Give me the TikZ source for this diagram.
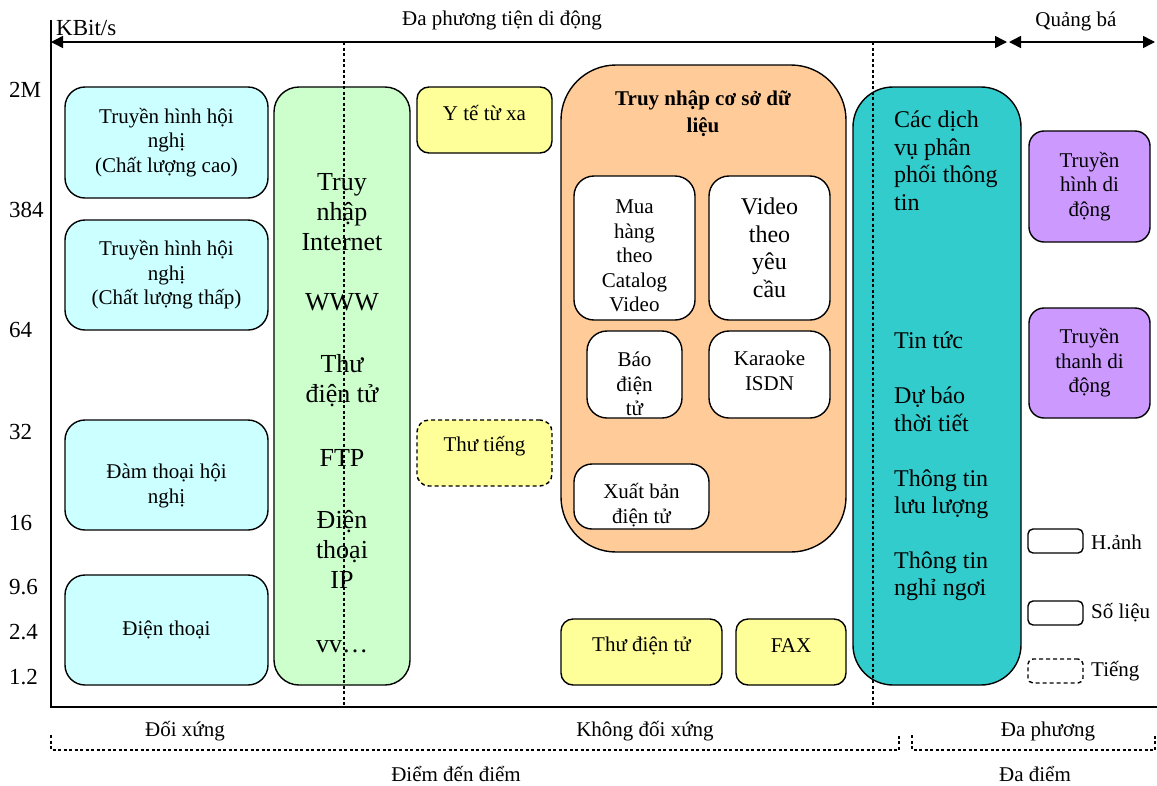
\documentclass[tikz,border=0pt]{standalone}
\usepackage{fontspec}
\setmainfont{Liberation Serif}
\usetikzlibrary{arrows.meta}
\definecolor{cyc}{HTML}{CCFFFF}
\definecolor{grc}{HTML}{CCFFCC}
\definecolor{yec}{HTML}{FFFF99}
\definecolor{orc}{HTML}{FFCC99}
\definecolor{tec}{HTML}{33CCCC}
\definecolor{puc}{HTML}{CC99FF}
\newcommand\fA{\fontsize{21}{24.5}\selectfont}
\newcommand\fB{\fontsize{26}{30}\selectfont}
\newcommand\fC{\fontsize{24}{27.5}\selectfont}
\newcommand\fD{\fontsize{23}{26}\selectfont}
\tikzset{
  rb/.style={draw=black, line width=1.4pt, align=center, inner sep=0pt, font=\fA},
  txt/.style={align=center, inner sep=0pt, font=\fA},
  dotl/.style={line width=1.5pt, dash pattern=on 3pt off 2.5pt},
  dbox/.style={dash pattern=on 4pt off 3pt},
  axl/.style={line width=1.5pt},
  arr/.style={line width=1.5pt, {Triangle[length=12pt,width=12pt]}-{Triangle[length=12pt,width=12pt]}},
  ylab/.style={anchor=west, inner sep=0pt, font=\fD}
}
\begin{document}
\begin{tikzpicture}[x=1pt,y=-1pt]
\useasboundingbox[fill=white] (0,0) rectangle (1157,785);

% axes
\coordinate (ax0) at (51,20);
\coordinate (ax1) at (51,707);
\coordinate (ax2) at (1157,707);
\draw[axl] (ax0) -- (ax1) -- (ax2);
\node[ylab] (kbit) at (56,28) {KBit/s};

% top arrows
\coordinate (a0) at (51,42);
\coordinate (a1) at (1007,42);
\coordinate (a1r) at (1009,42);
\coordinate (a2) at (1155,42);
\draw[arr] (a0) -- (a1);
\draw[arr] (a1r) -- (a2);
\node[txt] (mob) at (502,20) {Đa phương tiện di động};
\node[txt] (qb) at (1076,21) {Quảng bá};

% y labels
\node[ylab] (y1) at (9,90) {2M};
\node[ylab] (y2) at (9,210) {384};
\node[ylab] (y3) at (9,330) {64};
\node[ylab] (y4) at (9,432) {32};
\node[ylab] (y5) at (9,523) {16};
\node[ylab] (y6) at (9,587) {9.6};
\node[ylab] (y7) at (9,632) {2.4};
\node[ylab] (y8) at (9,677) {1.2};

% cyan boxes
\node[rb, rounded corners=20, fill=cyc, minimum width=203, minimum height=111] (tvh) at (166.5,142.5) {Truyền hình hội\\nghị\\(Chất lượng cao)};
\node[rb, rounded corners=20, fill=cyc, minimum width=203, minimum height=110] (tvl) at (166.5,275) {Truyền hình hội\\nghị\\(Chất lượng thấp)};
\node[rb, rounded corners=20, fill=cyc, minimum width=203, minimum height=110] (dtn) at (166.5,475) {};
\node[txt] (dtnt) at (166.5,486) {Đàm thoại hội\\nghị};
\node[rb, rounded corners=20, fill=cyc, minimum width=203, minimum height=110] (dt) at (166.5,630) {Điện thoại};

% green box
\node[rb, rounded corners=25, fill=grc, minimum width=136, minimum height=598] (gr) at (342,386) {};
\node[txt, font=\fB] (g1) at (342,212) {Truy\\nhập\\Internet};
\node[txt, font=\fB] (g2) at (342,302) {WWW};
\node[txt, font=\fB] (g3) at (342,381) {Thư\\điện tử};
\node[txt, font=\fB] (g4) at (342,458) {FTP};
\node[txt, font=\fB] (g5) at (342,549) {Điện\\thoại\\IP};
\node[txt, font=\fB] (g6) at (342,647) {vv…};

% yellow boxes
\node[rb, rounded corners=12, fill=yec, minimum width=135, minimum height=66] (yt) at (484.5,120) {};
\node[txt] (ytt) at (484.5,113) {Y tế từ xa};
\node[rb, dbox, rounded corners=12, fill=yec, minimum width=135, minimum height=66] (tt) at (484.5,453) {};
\node[txt] (ttt) at (484.5,446) {Thư tiếng};
\node[rb, rounded corners=12, fill=yec, minimum width=161, minimum height=66] (tdt) at (641.5,652) {};
\node[txt] (tdtt) at (641.5,646) {Thư điện tử};
\node[rb, rounded corners=12, fill=yec, minimum width=110, minimum height=66] (fax) at (791,652) {};
\node[txt] (faxt) at (791,646) {FAX};

% orange box
\node[rb, rounded corners=55, fill=orc, minimum width=285, minimum height=487] (db) at (703.5,308.5) {};
\node[txt, font=\fontsize{21}{27}\selectfont\bfseries] (dbt) at (703,114) {Truy nhập cơ sở dữ\\liệu};
\node[rb, rounded corners=20, fill=white, minimum width=121, minimum height=144] (mua) at (634.5,248) {};
\node[txt] (muat) at (634.5,256) {Mua\\hàng\\theo\\Catalog\\Video};
\node[rb, rounded corners=20, fill=white, minimum width=121, minimum height=144, font=\fC] (vid) at (769.5,248) {Video\\theo\\yêu\\cầu};
\node[rb, rounded corners=20, fill=white, minimum width=95, minimum height=87] (bao) at (634.5,374.5) {};
\node[txt] (baot) at (634.5,384) {Báo\\điện\\tử};
\node[rb, rounded corners=20, fill=white, minimum width=121, minimum height=87] (kar) at (769.5,374.5) {};
\node[txt] (kart) at (769.5,371) {Karaoke\\ISDN};
\node[rb, rounded corners=18, fill=white, minimum width=135, minimum height=65] (xb) at (641.5,496.5) {};
\node[txt] (xbt) at (641.5,505) {Xuất bản\\điện tử};

% teal box
\node[rb, rounded corners=40, fill=tec, minimum width=168, minimum height=598] (te) at (937,386) {};
\node[txt, font=\fC, anchor=west, align=left] (te1) at (894,161) {Các dịch\\vụ phân\\phối thông\\tin};
\node[txt, font=\fC, anchor=west, align=left] (te2) at (894,340) {Tin tức};
\node[txt, font=\fC, anchor=west, align=left] (te3) at (894,409.5) {Dự báo\\thời tiết};
\node[txt, font=\fC, anchor=west, align=left] (te4) at (894,494) {Thông tin\\lưu lượng};
\node[txt, font=\fC, anchor=west, align=left] (te5) at (894,576) {Thông tin\\nghỉ ngơi};

% purple boxes
\node[rb, rounded corners=15, fill=puc, minimum width=121, minimum height=111] (tvdd) at (1089.5,186.5) {Truyền\\hình di\\động};
\node[rb, rounded corners=15, fill=puc, minimum width=121, minimum height=110] (ttdd) at (1089.5,363) {Truyền\\thanh di\\động};

% legend
\node[rb, rounded corners=5, minimum width=55, minimum height=24] (lg1) at (1055.5,541) {};
\node[rb, rounded corners=5, minimum width=55, minimum height=24] (lg2) at (1055.5,613) {};
\node[rb, dbox, rounded corners=5, minimum width=55, minimum height=24] (lg3) at (1055.5,671) {};
\node[txt, anchor=west] (lt1) at (1091,542) {H.ảnh};
\node[txt, anchor=west] (lt2) at (1091,613) {Số liệu};
\node[txt, anchor=west] (lt3) at (1091,671) {Tiếng};

% dotted verticals
\coordinate (d1t) at (344,42);
\coordinate (d1b) at (344,707);
\coordinate (d2t) at (873,42);
\coordinate (d2b) at (873,707);
\draw[dotl] (d1t) -- (d1b);
\draw[dotl] (d2t) -- (d2b);

% bottom brackets
\coordinate (b1) at (51,735);
\coordinate (b2) at (51,750);
\coordinate (b3) at (899,750);
\coordinate (b4) at (899,735);
\coordinate (c1) at (912,735);
\coordinate (c2) at (912,750);
\coordinate (c3) at (1155,750);
\coordinate (c4) at (1155,735);
\draw[dotl] (b1) -- (b2) -- (b3) -- (b4);
\draw[dotl] (c1) -- (c2) -- (c3) -- (c4);
\node[txt] (sym) at (185,731) {Đối xứng};
\node[txt] (asym) at (645,731) {Không đối xứng};
\node[txt] (dp) at (1048,731) {Đa phương};
\node[txt] (p2p) at (456,774) {Điểm đến điểm};
\node[txt] (dd) at (1035,774) {Đa điểm};
\end{tikzpicture}
\end{document}
